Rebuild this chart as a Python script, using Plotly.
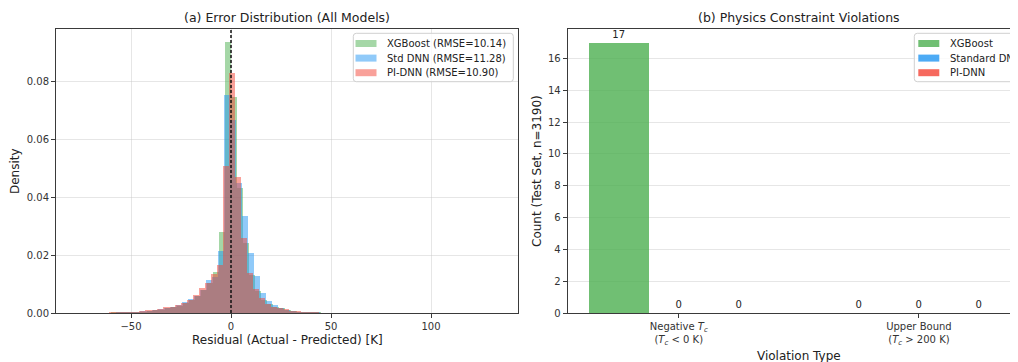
import plotly.graph_objects as go

# ---------------- Data ----------------
# (a) histogram densities, bins of equal width per model
bin_width = 3.0
xgb_first_edge = -63.0
xgb_density = [0.0001, 0.0002, 0.0002, 0.0003, 0.0003, 0.0004, 0.0005, 0.0007, 0.0009, 0.0012,
               0.0016, 0.0019, 0.0025, 0.0033, 0.0045, 0.0060, 0.0080, 0.0105, 0.0140, 0.0280,
               0.0936, 0.0746, 0.0430, 0.0240, 0.0130, 0.0075, 0.0045, 0.0030, 0.0022, 0.0016,
               0.0011, 0.0008, 0.0005, 0.0004, 0.0003, 0.0002, 0.0001, 0.0001]
dnn_first_edge = -63.6
dnn_density = [0.0001, 0.0001, 0.0002, 0.0003, 0.0003, 0.0004, 0.0006, 0.0008, 0.0010, 0.0013,
               0.0018, 0.0022, 0.0027, 0.0038, 0.0048, 0.0058, 0.0080, 0.0115, 0.0124, 0.0213,
               0.0752, 0.0666, 0.0450, 0.0335, 0.0207, 0.0126, 0.0068, 0.0042, 0.0028, 0.0018,
               0.0012, 0.0008, 0.0005, 0.0004, 0.0003, 0.0002, 0.0001, 0.0001]
pidnn_first_edge = -64.0
pidnn_density = [0.0001, 0.0002, 0.0002, 0.0003, 0.0003, 0.0005, 0.0008, 0.0009, 0.0012, 0.0015,
                 0.0020, 0.0019, 0.0026, 0.0034, 0.0045, 0.0062, 0.0085, 0.0105, 0.0135, 0.0165,
                 0.0507, 0.0829, 0.0470, 0.0260, 0.0138, 0.0083, 0.0052, 0.0032, 0.0022, 0.0016,
                 0.0013, 0.0008, 0.0007, 0.0004, 0.0003, 0.0002, 0.0001, 0.0001, 0.0001]
hist_names = ["XGBoost (RMSE=10.14)", "Std DNN (RMSE=11.28)", "PI-DNN (RMSE=10.90)"]

# (b) violations
violation_types = ["Negative <i>T</i><sub><i>c</i></sub><br>(<i>T</i><sub><i>c</i></sub> < 0 K)",
                   "Upper Bound<br>(<i>T</i><sub><i>c</i></sub> > 200 K)"]
viol_models = ["XGBoost", "Standard DNN", "PI-DNN"]
viol_counts = {"XGBoost": [17, 0], "Standard DNN": [0, 0], "PI-DNN": [0, 0]}

# ---------------- Style ----------------
FONT = "DejaVu Sans"
hist_colors = ["rgba(76,175,80,0.5)", "rgba(33,150,243,0.5)", "rgba(244,67,54,0.5)"]
bar_colors = ["rgba(76,175,80,0.8)", "rgba(33,150,243,0.8)", "rgba(244,67,54,0.8)"]
AX = "#3a3a3a"
GRID = "rgba(200,200,200,0.45)"
TXT = "#222222"

W, H = 1030, 362
L, R, T, B = 48, 8, 21, 57
PW = W - L - R
PH = H - T - B


def px_x(fx):
    return (fx - L) / PW


def px_y(fy):
    return (H - B - fy) / PH


fig = go.Figure()

for name, first, dens, col in zip(hist_names,
                                  [xgb_first_edge, dnn_first_edge, pidnn_first_edge],
                                  [xgb_density, dnn_density, pidnn_density], hist_colors):
    centers = [first + bin_width * (i + 0.5) for i in range(len(dens))]
    fig.add_trace(go.Bar(x=centers, y=dens, width=bin_width, name=name,
                         marker=dict(color=col, line=dict(width=0)),
                         xaxis="x", yaxis="y", showlegend=False))

cat_pos = list(range(len(violation_types)))
for i, (m, col) in enumerate(zip(viol_models, bar_colors)):
    vals = viol_counts[m]
    fig.add_trace(go.Bar(x=cat_pos, y=vals, width=0.25, offset=-0.375 + 0.25 * i,
                         name=m, marker=dict(color=col, line=dict(width=0)),
                         text=[str(v) for v in vals], textposition="outside",
                         textfont=dict(family=FONT, size=10, color=TXT),
                         cliponaxis=False,
                         xaxis="x2", yaxis="y2", showlegend=False))

# zero reference line
fig.add_shape(type="line", x0=0, x1=0, y0=0, y1=1, xref="x", yref="y domain",
              line=dict(color="#111111", width=1.5, dash="3px,2px"))


# ---- matplotlib-style legends (box + patches + labels), positions in page pixels ----
def rounded_box(x0, y0, x1, y1, r=3):
    X = lambda v: px_x(v)
    Y = lambda v: px_y(v)
    return (f"M {X(x0 + r)},{Y(y0)} L {X(x1 - r)},{Y(y0)} Q {X(x1)},{Y(y0)} {X(x1)},{Y(y0 + r)} "
            f"L {X(x1)},{Y(y1 - r)} Q {X(x1)},{Y(y1)} {X(x1 - r)},{Y(y1)} "
            f"L {X(x0 + r)},{Y(y1)} Q {X(x0)},{Y(y1)} {X(x0)},{Y(y1 - r)} "
            f"L {X(x0)},{Y(y0 + r)} Q {X(x0)},{Y(y0)} {X(x0 + r)},{Y(y0)} Z")


annotations = []


def add_legend(box_x0, box_x1, patch_x0, text_x0, labels, colors):
    off = 8  # page body margin
    fig.add_shape(type="path", path=rounded_box(box_x0 - off, 33.3 - off, box_x1 - off, 81.7 - off),
                  xref="paper", yref="paper", layer="above",
                  fillcolor="rgba(255,255,255,0.8)", line=dict(color="#d0d0d0", width=1))
    for row, (lab, col) in enumerate(zip(labels, colors)):
        cy = 43.5 + 14.6 * row - off
        fig.add_shape(type="rect", xref="paper", yref="paper", layer="above",
                      x0=px_x(patch_x0 - off), x1=px_x(patch_x0 + 21 - off),
                      y0=px_y(cy - 3.5), y1=px_y(cy + 3.5),
                      fillcolor=col, line=dict(width=0))
        annotations.append(dict(text=lab, x=px_x(text_x0 - off), y=px_y(cy), xref="paper",
                                yref="paper", xanchor="left", yanchor="middle", showarrow=False,
                                font=dict(family=FONT, size=10, color=TXT)))


add_legend(353.3, 513.3, 355.5, 385, hist_names, hist_colors)
add_legend(914.3, 1040, 918.3, 947.7, viol_models, bar_colors)

axis_common = dict(showline=True, linecolor=AX, linewidth=1, ticks="outside",
                   ticklen=4, tickcolor=AX, tickfont=dict(family=FONT, size=10, color="#333"),
                   zeroline=False)

left_dom = [0, px_x(510)]
right_dom = [px_x(559.7), 1.0]

annotations += [
    dict(text="(a) Error Distribution (All Models)", x=px_x(279), y=px_y(9),
         xref="paper", yref="paper", xanchor="center", yanchor="middle", showarrow=False,
         font=dict(family=FONT, size=12.5, color=TXT)),
    dict(text="(b) Physics Constraint Violations", x=px_x(791), y=px_y(9),
         xref="paper", yref="paper", xanchor="center", yanchor="middle", showarrow=False,
         font=dict(family=FONT, size=12.5, color=TXT)),
    dict(text="Residual (Actual - Predicted) [K]", x=px_x(279), y=px_y(332),
         xref="paper", yref="paper", xanchor="center", yanchor="middle", showarrow=False,
         font=dict(family=FONT, size=12, color=TXT)),
    dict(text="Violation Type", x=px_x(791), y=px_y(348),
         xref="paper", yref="paper", xanchor="center", yanchor="middle", showarrow=False,
         font=dict(family=FONT, size=12, color=TXT)),
    dict(text="Density", x=px_x(7), y=0.5, textangle=-90,
         xref="paper", yref="paper", xanchor="center", yanchor="middle", showarrow=False,
         font=dict(family=FONT, size=12, color=TXT)),
    dict(text="Count (Test Set, n=3190)", x=px_x(529), y=0.5, textangle=-90,
         xref="paper", yref="paper", xanchor="center", yanchor="middle", showarrow=False,
         font=dict(family=FONT, size=12, color=TXT)),
]

fig.update_layout(
    width=W, height=H,
    margin=dict(l=L, r=R, t=T, b=B),
    plot_bgcolor="white", paper_bgcolor="white",
    barmode="overlay", bargap=0, showlegend=False,
    font=dict(family=FONT, color=TXT),
    xaxis=dict(domain=left_dom, range=[-87.5, 143.5], tickvals=[-50, 0, 50, 100],
               showgrid=True, gridcolor=GRID, mirror=True, **axis_common),
    yaxis=dict(domain=[0, 1], range=[0, 0.098], tickvals=[0, 0.02, 0.04, 0.06, 0.08],
               tickformat=".2f", showgrid=True, gridcolor=GRID, mirror=True, **axis_common),
    xaxis2=dict(domain=right_dom, range=[-0.4625, 1.4625], tickvals=cat_pos,
                ticktext=violation_types, showgrid=False, mirror=True, **axis_common),
    yaxis2=dict(domain=[0, 1], anchor="x2", range=[0, 17.85], tickvals=list(range(0, 17, 2)),
                showgrid=True, gridcolor=GRID, mirror=True, **axis_common),
    annotations=annotations,
)

fig.write_html("out.html")
